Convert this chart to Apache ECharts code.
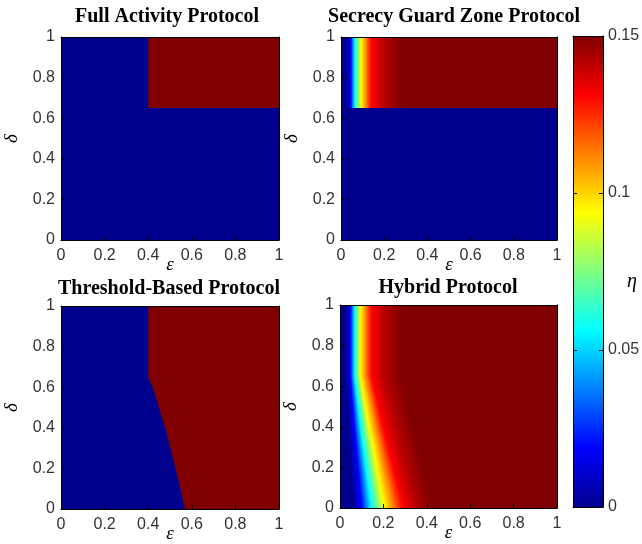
<!DOCTYPE html>
<html><head><meta charset="utf-8">
<script src="https://cdn.jsdelivr.net/npm/echarts@6/dist/echarts.min.js"></script>
<style>html,body{margin:0;padding:0;background:#fff}#c{width:642px;height:544px}</style>
</head><body><div id="c"></div>
<script>
// ---------- data ----------
const titles = ['Full Activity Protocol', 'Secrecy Guard Zone Protocol', 'Threshold-Based Protocol', 'Hybrid Protocol'];
const axisTicks = [0, 0.2, 0.4, 0.6, 0.8, 1];
const colorbarTicks = [0, 0.05, 0.1, 0.15];
const etaMin = 0, etaMax = 0.15;

// Full Activity: eta = etaMax where eps >= fullActivityEps and delta >= fullActivityDelta, else 0
const fullActivityEps = 0.40;
const fullActivityDelta = 0.65;

// eta levels (contours) of the gradient panels
const etaLevels = [0, 0.019, 0.056, 0.094, 0.131, 0.142, 0.15];

// Secrecy Guard Zone: for delta >= sgzDelta, eps where eta reaches each level; below sgzDelta eta = 0
const sgzDelta = 0.65;
const sgzLevelEps = [0.028, 0.046, 0.064, 0.094, 0.140, 0.200, 0.280];

// Threshold-Based: boundary eps (eta = 0 left of it, etaMax right of it) at delta knots
const thresholdKnotDelta = [0, 0.1, 0.2, 0.3, 0.4, 0.5, 0.6, 0.65, 1];
const thresholdBoundary = [0.568, 0.548, 0.525, 0.502, 0.478, 0.450, 0.420, 0.400, 0.400];

// Hybrid: eps where eta reaches each level, at delta knots
const hybridKnotDelta = [0, 0.2, 0.4, 0.65, 1];
const hybridLevelEps = [
  [0.060, 0.100, 0.145, 0.205, 0.290, 0.350, 0.430],
  [0.050, 0.083, 0.120, 0.170, 0.244, 0.304, 0.384],
  [0.040, 0.066, 0.095, 0.135, 0.198, 0.258, 0.338],
  [0.030, 0.048, 0.068, 0.094, 0.145, 0.205, 0.285],
  [0.030, 0.048, 0.068, 0.094, 0.145, 0.205, 0.285]
];

// ---------- build bands: [epsAtBottom, epsAtTop, delta0, delta1, eta] ----------
// each band is filled from its left edge to eps = 1; later bands paint over earlier ones
const subSteps = 14;
function gradientBand(d0, d1, posA, posB) {
  const out = [[0, 0, d0, d1, etaLevels[0]]];
  for (let k = 0; k + 1 < posA.length; k++) {
    for (let s = 0; s < subSteps; s++) {
      const f = s / subSteps, fm = (s + 0.5) / subSteps;
      out.push([posA[k] + (posA[k + 1] - posA[k]) * f, posB[k] + (posB[k + 1] - posB[k]) * f, d0, d1,
        etaLevels[k] + (etaLevels[k + 1] - etaLevels[k]) * fm]);
    }
  }
  const L = posA.length - 1;
  out.push([posA[L], posB[L], d0, d1, etaLevels[L]]);
  return out;
}
const faData = [
  [0, 0, 0, 1, etaMin],
  [fullActivityEps, fullActivityEps, fullActivityDelta, 1, etaMax]
];
const sgzData = [[0, 0, 0, sgzDelta, etaMin]].concat(gradientBand(sgzDelta, 1, sgzLevelEps, sgzLevelEps));
const thrData = [[0, 0, 0, 1, etaMin]];
for (let i = 0; i + 1 < thresholdKnotDelta.length; i++) {
  thrData.push([thresholdBoundary[i], thresholdBoundary[i + 1], thresholdKnotDelta[i], thresholdKnotDelta[i + 1], etaMax]);
}
let hybData = [];
for (let i = 0; i + 1 < hybridKnotDelta.length; i++) {
  hybData = hybData.concat(gradientBand(hybridKnotDelta[i], hybridKnotDelta[i + 1], hybridLevelEps[i], hybridLevelEps[i + 1]));
}
const cbData = [];
for (let k = 0; k < 300; k++) {
  const v0 = etaMax * k / 300, v1 = etaMax * (k + 1) / 300;
  cbData.push([0, 0, v0, v1, (v0 + v1) / 2]);
}

// ---------- layout ----------
const grids = [
  { left: 61, top: 37, width: 218, height: 203 },
  { left: 341, top: 37, width: 216, height: 203 },
  { left: 61, top: 306, width: 218, height: 203 },
  { left: 340, top: 305, width: 217, height: 203 },
  { left: 573, top: 36, width: 30, height: 471 }
].map(g => Object.assign({ outerBoundsMode: 'none', containLabel: false }, g));
const titlePos = [[167, 17], [454, 17], [169, 289], [448, 288]];
const jet = ['#00008F', '#0000FF', '#0080FF', '#00FFFF', '#80FF80', '#FFFF00', '#FF8000', '#FF0000', '#800000'];
const labelFont = { fontFamily: 'Liberation Sans', fontSize: 16, color: '#333' };
const lineStyle = { color: '#000', width: 1 };
const fmt1 = v => String(+(+v).toFixed(2));
const nameFont = { fontFamily: 'Liberation Serif', fontStyle: 'italic', fontSize: 19, color: '#000' };

const xAxes = [], yAxes = [];
for (let g = 0; g < 4; g++) {
  xAxes.push({
    gridIndex: g, type: 'value', min: axisTicks[0], max: axisTicks[axisTicks.length - 1], interval: 0.2, z: 10,
    axisLine: { show: true, lineStyle }, axisTick: { show: true, inside: true, length: 4, lineStyle },
    axisLabel: Object.assign({ margin: 8, formatter: fmt1 }, labelFont), splitLine: { show: false },
    name: 'ε', nameLocation: 'middle', nameGap: 15, nameMoveOverlap: false, nameTextStyle: nameFont
  });
  xAxes.push({
    gridIndex: g, type: 'value', position: 'top', min: 0, max: 1, z: 10,
    axisLine: { show: true, onZero: false, lineStyle }, axisTick: { show: false }, axisLabel: { show: false }, splitLine: { show: false }
  });
  yAxes.push({
    gridIndex: g, type: 'value', min: axisTicks[0], max: axisTicks[axisTicks.length - 1], interval: 0.2, z: 10,
    axisLine: { show: true, lineStyle }, axisTick: { show: true, inside: true, length: 4, lineStyle },
    axisLabel: Object.assign({ margin: 6, formatter: fmt1 }, labelFont), splitLine: { show: false },
    name: 'δ', nameLocation: 'middle', nameGap: 40, nameRotate: 90, nameMoveOverlap: false, nameTextStyle: nameFont
  });
  yAxes.push({
    gridIndex: g, type: 'value', position: 'right', min: 0, max: 1, z: 10,
    axisLine: { show: true, onZero: false, lineStyle }, axisTick: { show: false }, axisLabel: { show: false }, splitLine: { show: false }
  });
}
// colorbar axes
xAxes.push({ gridIndex: 4, type: 'value', min: 0, max: 1, z: 10, axisLine: { show: true, lineStyle }, axisTick: { show: false }, axisLabel: { show: false }, splitLine: { show: false } });
xAxes.push({ gridIndex: 4, type: 'value', position: 'top', min: 0, max: 1, z: 10, axisLine: { show: true, onZero: false, lineStyle }, axisTick: { show: false }, axisLabel: { show: false }, splitLine: { show: false } });
yAxes.push({ gridIndex: 4, type: 'value', position: 'left', min: colorbarTicks[0], max: colorbarTicks[colorbarTicks.length - 1], interval: 0.05, z: 10,
  axisLine: { show: true, lineStyle }, axisTick: { show: true, inside: true, length: 4, lineStyle }, axisLabel: { show: false }, splitLine: { show: false } });
yAxes.push({ gridIndex: 4, type: 'value', position: 'right', min: colorbarTicks[0], max: colorbarTicks[colorbarTicks.length - 1], interval: 0.05, z: 10,
  axisLine: { show: true, onZero: false, lineStyle }, axisTick: { show: true, inside: true, length: 4, lineStyle },
  axisLabel: Object.assign({ margin: 5, formatter: fmt1 }, labelFont), splitLine: { show: false } });

// band polygon: (epsBottom, d0) -> (1, d0) -> (1, d1) -> (epsTop, d1); rows snapped to whole pixels
function renderBand(params, api) {
  const d0 = api.value(2), d1 = api.value(3);
  const pb = api.coord([api.value(0), d0]);
  const pt = api.coord([api.value(1), d1]);
  const rb = api.coord([1, d0]);
  const yb = Math.round(pb[1]), yt = Math.round(pt[1]);
  const xr = Math.ceil(rb[0]) + 1;
  return {
    type: 'polygon',
    shape: { points: [[pb[0], yb], [xr, yb], [xr, yt], [pt[0], yt]] },
    style: { fill: api.visual('color'), stroke: null }
  };
}
const allData = [faData, sgzData, thrData, hybData, cbData];
const series = allData.map((d, g) => ({
  type: 'custom', xAxisIndex: g * 2, yAxisIndex: g * 2, data: d, renderItem: renderBand, clip: true, silent: true,
  encode: { x: [0, 1], y: [2, 3] }, animation: false
}));

const graphic = titles.map((t, i) => ({
  type: 'text', x: titlePos[i][0], y: titlePos[i][1],
  style: { text: t, fontFamily: 'Liberation Serif', fontWeight: 'bold', fontSize: 20, fill: '#000', textAlign: 'center', textVerticalAlign: 'middle' }
}));
graphic.push({ type: 'text', x: 632, y: 282, style: { text: 'η', fontFamily: 'Liberation Serif', fontStyle: 'italic', fontSize: 20, fill: '#000', textAlign: 'center', textVerticalAlign: 'middle' } });

const chart = echarts.init(document.getElementById('c'), null, { renderer: 'canvas' });
chart.setOption({
  animation: false,
  backgroundColor: '#fff',
  grid: grids,
  xAxis: xAxes,
  yAxis: yAxes,
  visualMap: { type: 'continuous', show: false, min: etaMin, max: etaMax, dimension: 4, seriesIndex: [0, 1, 2, 3, 4], inRange: { color: jet } },
  series,
  graphic
});
</script></body></html>
